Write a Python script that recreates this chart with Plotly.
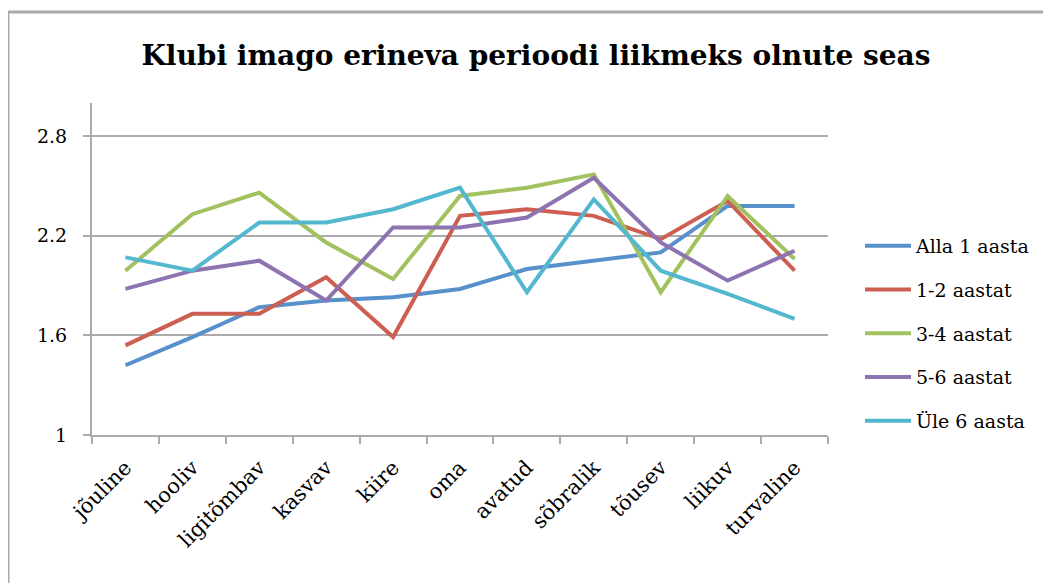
import plotly.graph_objects as go

CATEGORIES = ["jõuline", "hooliv", "ligitõmbav", "kasvav", "kiire", "oma",
              "avatud", "sõbralik", "tõusev", "liikuv", "turvaline"]

ALLA_1 = [1.42, 1.59, 1.77, 1.81, 1.83, 1.88, 2.00, 2.05, 2.10, 2.38, 2.38]
AASTAT_1_2 = [1.54, 1.73, 1.73, 1.95, 1.59, 2.32, 2.36, 2.32, 2.18, 2.41, 1.99]
AASTAT_3_4 = [1.99, 2.33, 2.46, 2.16, 1.94, 2.44, 2.49, 2.57, 1.86, 2.44, 2.06]
AASTAT_5_6 = [1.88, 1.99, 2.05, 1.81, 2.25, 2.25, 2.31, 2.55, 2.16, 1.93, 2.11]
ULE_6 = [2.07, 1.99, 2.28, 2.28, 2.36, 2.49, 1.86, 2.42, 1.99, 1.85, 1.70]

SERIES = [
    ("Alla 1 aasta", ALLA_1, "#5790CA"),
    ("1-2 aastat", AASTAT_1_2, "#CD5F52"),
    ("3-4 aastat", AASTAT_3_4, "#A2C25F"),
    ("5-6 aastat", AASTAT_5_6, "#8D73AF"),
    ("Üle 6 aasta", ULE_6, "#52B7CF"),
]

FONT = "DejaVu Serif"
GRID = "#ababab"

fig = go.Figure()
for name, vals, color in SERIES:
    fig.add_trace(go.Scatter(
        x=CATEGORIES, y=vals, mode="lines", name=name, legendgroup=name,
        line=dict(color=color, width=4),
    ))

# the page body adds an 8px offset, so screen targets are shifted by OFF
W, H, OFF = 1051, 583, 8
L, R, T, B = 92 - OFF, 223 + OFF, 103 - OFF, 148 + OFF
pw, ph = W - L - R, H - T - B


def px(x):
    return (x - OFF - L) / pw


def py(y):
    return (H - B - (y - OFF)) / ph


fig.update_layout(
    width=W, height=H,
    margin=dict(l=L, r=R, t=T, b=B),
    paper_bgcolor="white", plot_bgcolor="white",
    font=dict(family=FONT, size=19, color="#000000"),
    title=dict(text="<b>Klubi imago erineva perioodi liikmeks olnute seas</b>",
               x=(536 - OFF) / W, xanchor="center", xref="container",
               y=1 - (55 - OFF) / H, yanchor="middle", yref="container",
               font=dict(family=FONT, size=28, color="#000000")),
    showlegend=True,
    legend=dict(x=px(860), xanchor="left", y=py(227), yanchor="top",
                font=dict(family=FONT, size=19), tracegroupgap=16,
                itemwidth=46, bgcolor="rgba(0,0,0,0)"),
    xaxis=dict(type="category", showgrid=False, showline=True, linecolor=GRID,
               linewidth=2, ticks="outside", ticklen=7, tickcolor=GRID,
               tickwidth=2, tickson="boundaries", tickangle=-45,
               range=[-0.5, len(CATEGORIES) - 0.5], ticklabelstandoff=10,
               tickfont=dict(family=FONT, size=21)),
    yaxis=dict(range=[1, 3], tickvals=[1, 1.6, 2.2, 2.8],
               ticktext=["1", "1.6", "2.2", "2.8"],
               showgrid=True, gridcolor=GRID, gridwidth=2,
               showline=True, linecolor=GRID, linewidth=2,
               ticks="outside", ticklen=7, tickcolor=GRID, tickwidth=2,
               zeroline=False, ticklabelstandoff=12,
               tickfont=dict(family=FONT, size=19)),
    shapes=[
        dict(type="line", xref="paper", yref="paper",
             x0=px(8), x1=px(W + 20), y0=py(12), y1=py(12),
             line=dict(color="#aaaaaa", width=3)),
        dict(type="line", xref="paper", yref="paper",
             x0=px(8), x1=px(8), y0=py(12), y1=py(H + 20),
             line=dict(color="#aaaaaa", width=3)),
    ],
)

fig.write_html("out.html")
